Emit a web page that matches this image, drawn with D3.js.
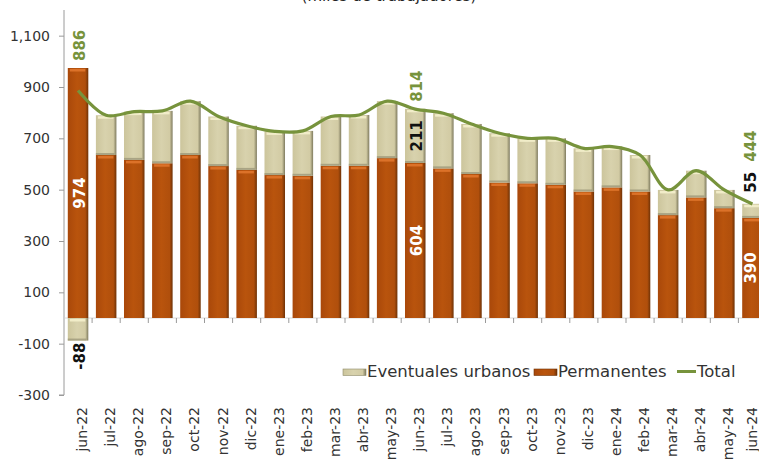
<!DOCTYPE html>
<html><head><meta charset="utf-8">
<script src="https://cdn.jsdelivr.net/npm/d3@7"></script>
<style>
html,body{margin:0;padding:0;background:#fff;}
svg{display:block;font-family:"DejaVu Sans",sans-serif;}
</style></head>
<body>
<svg id="chart" width="759" height="464"></svg>
<script>
const categories = ["jun-22","jul-22","ago-22","sep-22","oct-22","nov-22","dic-22","ene-23","feb-23","mar-23","abr-23","may-23","jun-23","jul-23","ago-23","sep-23","oct-23","nov-23","dic-23","ene-24","feb-24","mar-24","abr-24","may-24","jun-24"];
const permanentes = [974,635,616,603,635,592,577,557,554,593,593,623,604,583,561,528,525,519,493,509,493,401,470,428,390];
const eventuales  = [-88,155,188,204,210,193,172,170,175,192,198,222,211,215,195,192,175,181,168,159,142,98,104,71,55];
const total       = [886,790,804,807,845,785,749,727,729,785,791,845,814,798,756,720,700,700,661,668,635,499,574,499,444];
const yTicks = [-300,-100,100,300,500,700,900,1100];
const labeled = [0,12,24];
const titleText = "(miles de trabajadores)";

const svg = d3.select("#chart");
const x = d3.scaleBand().domain(categories).range([64, 766.5]).paddingInner(0.27).paddingOuter(0.135);
const y = d3.scaleLinear().domain([-300,1200]).range([395,10]);

const defs = svg.append("defs");
function grad(id, stops){
  const g = defs.append("linearGradient").attr("id",id).attr("x1","0%").attr("x2","100%").attr("y1","0%").attr("y2","0%");
  stops.forEach(s=>g.append("stop").attr("offset",s[0]).attr("stop-color",s[1]));
}
grad("gPerm",[["0%","#A9480A"],["45%","#B9540D"],["85%","#B04F0C"],["100%","#6E3206"]]);
grad("gEv",[["0%","#CCC59C"],["45%","#D8D2AD"],["85%","#D2CBA4"],["100%","#7E7A5E"]]);

// title (only its lowest edge is in view, as in the reference)
svg.append("text").attr("x",389).attr("y",1).attr("text-anchor","middle")
  .attr("font-size",15).attr("fill","#222").text(titleText);

// y axis
const fmt = d3.format(",");
const yAxis = svg.append("g").attr("transform","translate(64,0)")
  .call(d3.axisLeft(y).tickValues(yTicks).tickSize(5).tickFormat(d=>fmt(d).replace("\u2212","-")));
yAxis.select(".domain").attr("stroke","#9a9a9a").attr("d","M-5,"+y(-300)+"H0V"+y(1200));
yAxis.selectAll(".tick line").attr("stroke","#9a9a9a");
yAxis.selectAll(".tick text").attr("x",-14).attr("font-size",14).attr("fill","#333").attr("font-family","DejaVu Sans");

// x axis at zero (ticks between categories)
const xg = svg.append("g");
xg.append("line").attr("x1",64).attr("x2",766).attr("y1",y(0)).attr("y2",y(0)).attr("stroke","#d0d0d0").attr("stroke-width",0.8);
xg.selectAll("line.tk").data(categories.slice(1)).join("line").attr("class","tk")
  .attr("x1",d=>x(d)-x.step()*x.paddingInner()/2).attr("x2",d=>x(d)-x.step()*x.paddingInner()/2)
  .attr("y1",y(0)).attr("y2",y(0)+5).attr("stroke","#9a9a9a");

// bars
const data = categories.map((c,i)=>({c,i,p:permanentes[i],e:eventuales[i],t:total[i]}));
const bw = x.bandwidth();
const gb = svg.append("g");
data.forEach(d=>{
  const x0 = x(d.c);
  gb.append("rect").attr("x",x0).attr("width",bw).attr("y",y(Math.max(0,d.p))).attr("height",Math.abs(y(d.p)-y(0))).attr("fill","url(#gPerm)");
  gb.append("rect").attr("x",x0+2).attr("width",bw-5).attr("y",y(d.p)+1).attr("height",2.5).attr("fill","#E0762C").attr("opacity",0.9);
  let e0, e1;
  if(d.e>=0){ e0 = y(d.p+d.e); e1 = y(d.p); } else { e0 = y(0); e1 = y(d.e); }
  gb.append("rect").attr("x",x0).attr("width",bw).attr("y",e0).attr("height",e1-e0).attr("fill","url(#gEv)");
  gb.append("rect").attr("x",x0+2).attr("width",bw-5).attr("y",e0+1).attr("height",2.5).attr("fill","#F4F0CC").attr("opacity",0.9);
  gb.append("rect").attr("x",x0).attr("width",bw-2).attr("y",e1-2).attr("height",2).attr("fill","#9E987A").attr("opacity",0.8);
});

// total line
const line = d3.line().x(d=>x(d.c)+bw/2).y(d=>y(d.t)).curve(d3.curveCatmullRom.alpha(0.5));
svg.append("path").datum(data).attr("d",line).attr("fill","none").attr("stroke","#77933C").attr("stroke-width",3.2).attr("stroke-linejoin","round");

// data labels
const lg = svg.append("g").attr("font-weight","bold").attr("font-size",15);
function vlabel(cx, yy, anchor, txt, color){
  lg.append("text").attr("transform",`translate(${cx+7},${yy}) rotate(-90)`).attr("text-anchor",anchor)
    .attr("fill",color).text(txt);
}
labeled.forEach(i=>{
  const d = data[i];
  const cx = Math.min(x(d.c)+bw/2, 749);
  const topY = y(Math.max(d.p, d.p+Math.max(0,d.e), d.t));
  vlabel(cx, (y(d.p)+y(0))/2, "middle", d.p, "#fff");
  let nextStart = topY - 7;
  if(d.e<0){
    vlabel(cx, y(d.e)+2, "end", d.e, "#111");
  } else {
    const segH = y(d.p)-y(d.p+d.e);
    if(segH>35){ vlabel(cx, (y(d.p)+y(d.p+d.e))/2, "middle", d.e, "#111"); }
    else { vlabel(cx, topY-11, "start", d.e, "#111"); nextStart = topY-11-21-10; }
  }
  vlabel(cx, nextStart, "start", d.t, "#77933C");
});

// x labels
svg.append("g").selectAll("text").data(categories).join("text")
  .attr("transform",d=>`translate(${Math.min(x(d)+bw/2+9, 757)},407) rotate(-90)`).attr("text-anchor","end")
  .attr("font-size",14).attr("fill","#333").text(d=>d);

// legend
const leg = svg.append("g").attr("font-size",16.5).attr("fill","#333");
leg.append("rect").attr("x",343).attr("y",369).attr("width",23).attr("height",6.5).attr("fill","url(#gEv)").attr("stroke","#8E8A6A").attr("stroke-width",0.6);
leg.append("text").attr("x",367).attr("y",377).text("Eventuales urbanos");
leg.append("rect").attr("x",534).attr("y",369).attr("width",23).attr("height",6.5).attr("fill","url(#gPerm)").attr("stroke","#6E3206").attr("stroke-width",0.6);
leg.append("text").attr("x",558).attr("y",377).text("Permanentes");
leg.append("line").attr("x1",677).attr("x2",696).attr("y1",371.5).attr("y2",371.5).attr("stroke","#77933C").attr("stroke-width",3);
leg.append("text").attr("x",697).attr("y",377).text("Total");
</script>
</body></html>
